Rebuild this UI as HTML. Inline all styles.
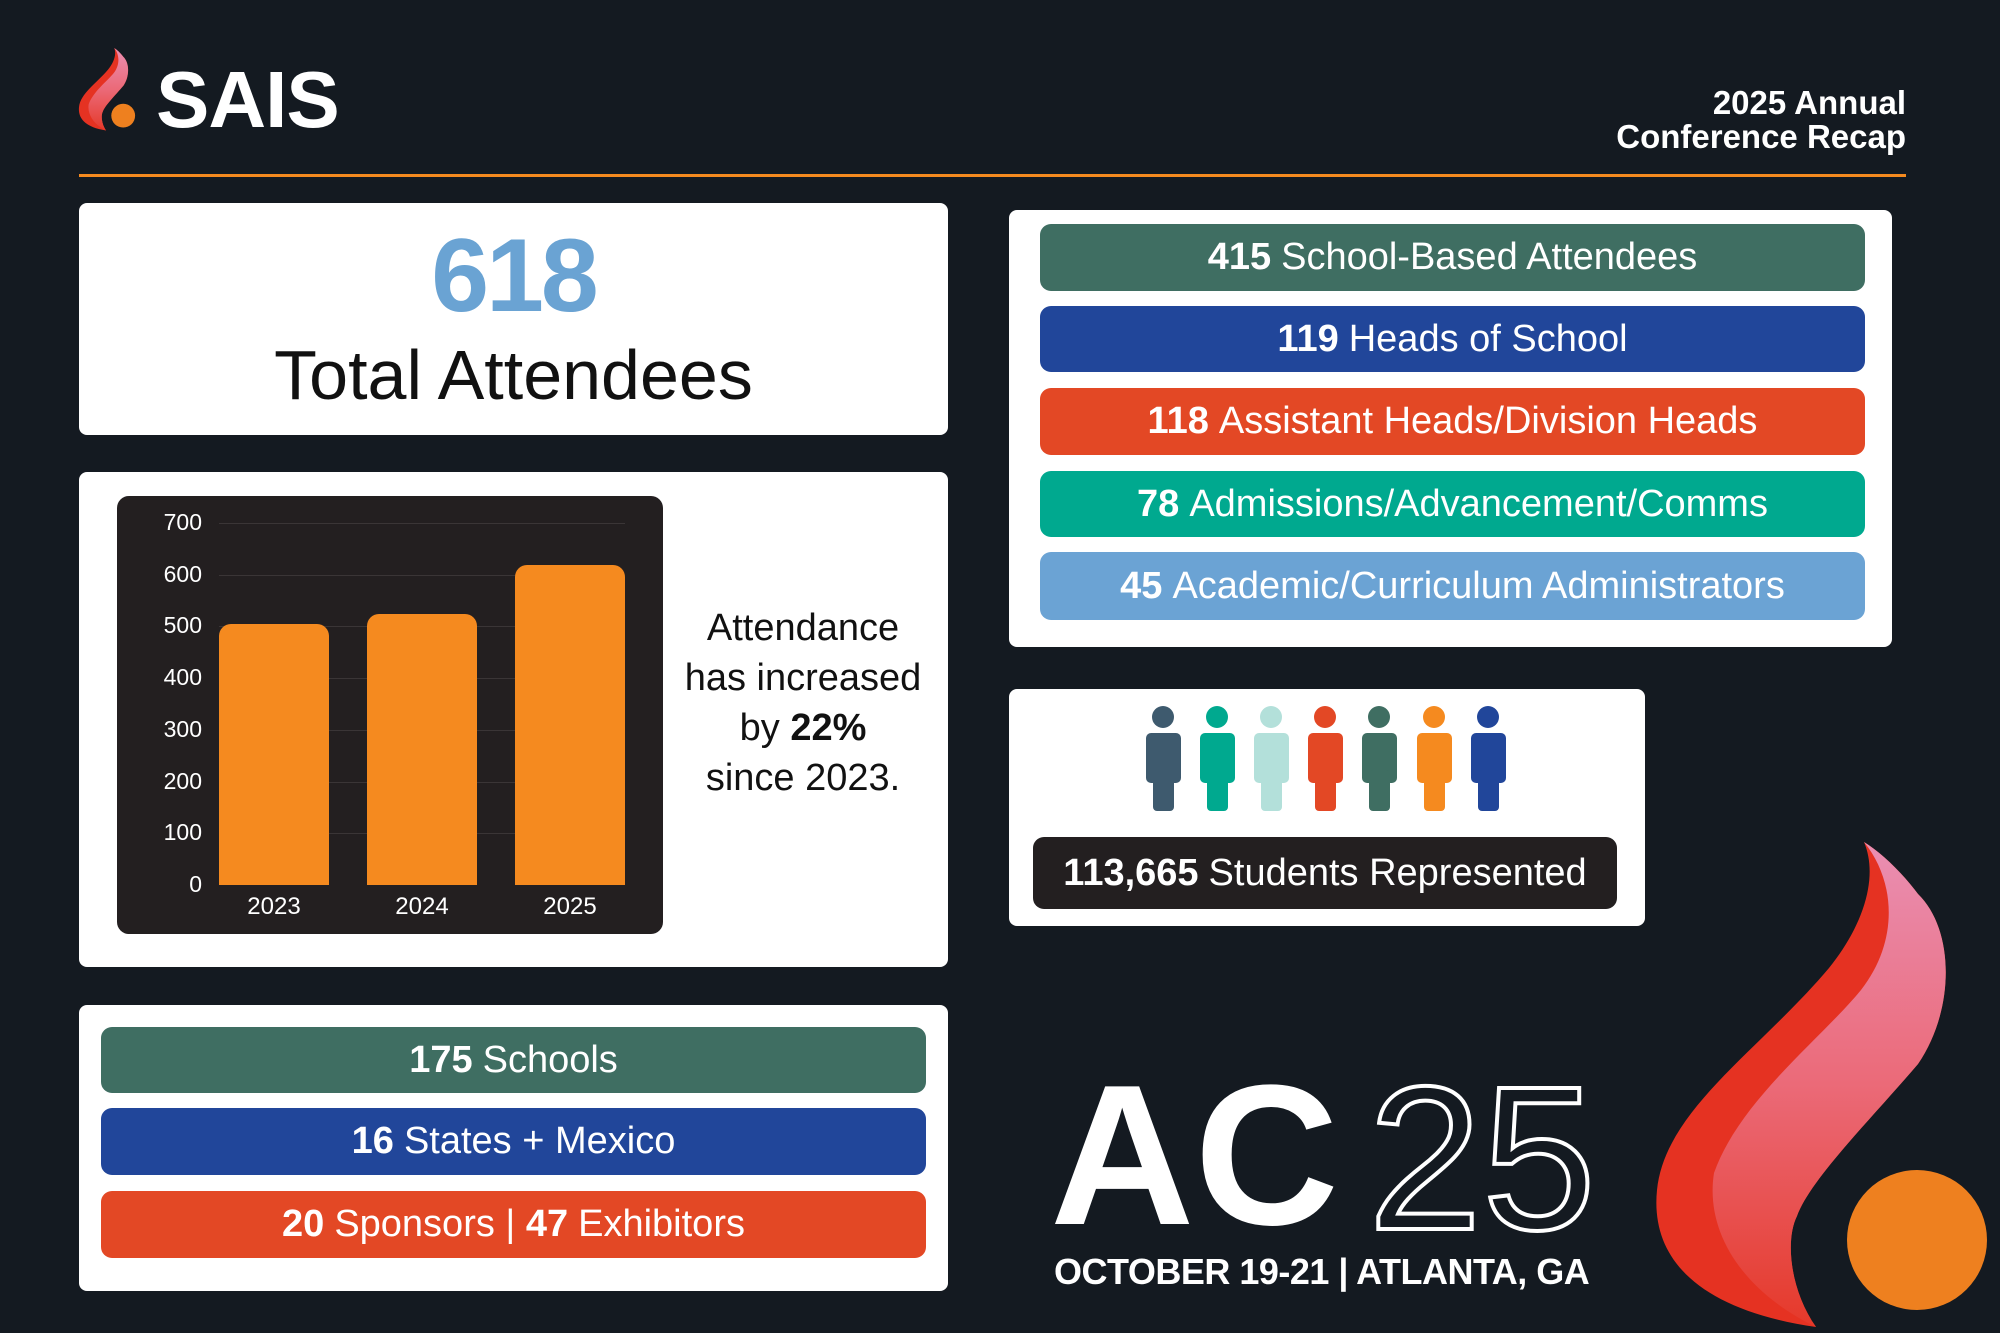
<!DOCTYPE html>
<html><head><meta charset="utf-8"><style>
*{margin:0;padding:0;box-sizing:border-box}
body{width:2000px;height:1333px;background:#141a21;position:relative;overflow:hidden;font-family:"Liberation Sans",sans-serif;color:#111}
.a{position:absolute}
.card{position:absolute;background:#fff;border-radius:8px}
.bar{position:absolute;border-radius:11px;color:#fff;font-size:38px;display:flex;align-items:center;justify-content:center;white-space:nowrap}
.bar b{margin-right:10px}
.yl{position:absolute;left:140px;width:62px;text-align:right;color:#fff;font-size:23px}
.gl{position:absolute;left:219px;width:406px;height:1px;background:#3a3536}
.ob{position:absolute;background:#f58a1f;border-radius:12px 12px 0 0;width:110px}
.xl{position:absolute;top:893px;color:#fff;font-size:24px;width:110px;text-align:center}
</style></head><body>
<svg class="a" style="left:0;top:0" width="2000" height="1333">
<defs>
<linearGradient id="pk" x1="0" y1="0" x2="0" y2="1"><stop offset="0" stop-color="#ea8fb3"/><stop offset="0.5" stop-color="#eb6a78"/><stop offset="1" stop-color="#e5392a"/></linearGradient>
<g id="fl">
<path d="M1864 842 C1880 880 1860 930 1829 968 C1760 1050 1665 1110 1657 1190 C1650 1260 1700 1310 1816 1327 C1790 1290 1785 1240 1797 1216 C1810 1180 1870 1120 1918 1064 C1955 1010 1955 930 1918 894 C1900 870 1880 852 1864 842 Z" fill="#e53222"/>
<path d="M1864 842 C1895 880 1900 940 1861 990 C1820 1040 1740 1100 1714 1173 C1705 1230 1740 1290 1816 1327 C1790 1290 1785 1240 1797 1216 C1810 1180 1870 1120 1918 1064 C1955 1010 1955 930 1918 894 C1900 870 1880 852 1864 842 Z" fill="url(#pk)"/>
<ellipse cx="1917" cy="1240" rx="70" ry="70" fill="#ee801f"/>
</g>
</defs>
<use href="#fl"/>
<g transform="translate(79,48) scale(0.17) translate(-1657,-842)"><use href="#fl"/></g>
<rect x="79" y="174" width="1827" height="3" fill="#f58a1f"/>
</svg>
<div class="a" style="left:156px;top:54px;font-size:80px;font-weight:bold;color:#fff;letter-spacing:-1px">SAIS</div>
<div class="a" style="right:94px;top:86px;font-size:33px;font-weight:bold;color:#fff;text-align:right;line-height:34px">2025 Annual<br>Conference Recap</div>

<div class="card" style="left:79px;top:203px;width:869px;height:232px">
<div class="a" style="left:0;width:869px;top:14px;text-align:center;font-size:104px;font-weight:bold;color:#6aa3d3;letter-spacing:-3px">618</div>
<div class="a" style="left:0;width:869px;top:132px;text-align:center;font-size:70px;color:#111">Total Attendees</div>
</div>

<div class="card" style="left:79px;top:472px;width:869px;height:495px"></div>
<div class="a" style="left:117px;top:496px;width:546px;height:438px;background:#231f20;border-radius:12px"></div>
<div class="gl" style="top:523px"></div><div class="gl" style="top:575px"></div><div class="gl" style="top:626px"></div><div class="gl" style="top:678px"></div><div class="gl" style="top:730px"></div><div class="gl" style="top:782px"></div><div class="gl" style="top:833px"></div>
<div class="yl" style="top:509px">700</div><div class="yl" style="top:561px">600</div><div class="yl" style="top:612px">500</div><div class="yl" style="top:664px">400</div><div class="yl" style="top:716px">300</div><div class="yl" style="top:768px">200</div><div class="yl" style="top:819px">100</div><div class="yl" style="top:871px">0</div>
<div class="ob" style="left:219px;top:624px;height:261px"></div>
<div class="ob" style="left:367px;top:614px;height:271px"></div>
<div class="ob" style="left:515px;top:565px;height:320px"></div>
<div class="xl" style="left:219px">2023</div><div class="xl" style="left:367px">2024</div><div class="xl" style="left:515px">2025</div>
<div class="a" style="left:668px;width:270px;top:603px;text-align:center;font-size:38px;line-height:50px;color:#111">Attendance<br>has increased<br>by <b>22%</b><br>since 2023.</div>

<div class="card" style="left:79px;top:1005px;width:869px;height:286px"></div>
<div class="bar" style="left:101px;top:1027px;width:825px;height:66px;background:#3f6e62"><b>175</b>Schools</div>
<div class="bar" style="left:101px;top:1108px;width:825px;height:67px;background:#21469a"><b>16</b>States + Mexico</div>
<div class="bar" style="left:101px;top:1191px;width:825px;height:67px;background:#e34825"><b>20</b>Sponsors |&nbsp;<b>47</b>Exhibitors</div>

<div class="card" style="left:1009px;top:210px;width:883px;height:437px"></div>
<div class="bar" style="left:1040px;top:224px;width:825px;height:67px;background:#3f6e62"><b>415</b>School-Based Attendees</div>
<div class="bar" style="left:1040px;top:306px;width:825px;height:66px;background:#21469a"><b>119</b>Heads of School</div>
<div class="bar" style="left:1040px;top:388px;width:825px;height:67px;background:#e34825"><b>118</b>Assistant Heads/Division Heads</div>
<div class="bar" style="left:1040px;top:471px;width:825px;height:66px;background:#00a98f"><b>78</b>Admissions/Advancement/Comms</div>
<div class="bar" style="left:1040px;top:552px;width:825px;height:68px;background:#6ba3d4"><b>45</b>Academic/Curriculum Administrators</div>

<div class="card" style="left:1009px;top:689px;width:636px;height:237px"></div>
<svg class="a" style="left:0;top:0" width="2000" height="1333">
<g fill="#3e5a6e"><circle cx="1163" cy="717" r="11"/><rect x="1146" y="733" width="35" height="50" rx="5"/><rect x="1153" y="770" width="21" height="41" rx="4"/></g>
<g fill="#00a98f"><circle cx="1217" cy="717" r="11"/><rect x="1200" y="733" width="35" height="50" rx="5"/><rect x="1207" y="770" width="21" height="41" rx="4"/></g>
<g fill="#b3e0da"><circle cx="1271" cy="717" r="11"/><rect x="1254" y="733" width="35" height="50" rx="5"/><rect x="1261" y="770" width="21" height="41" rx="4"/></g>
<g fill="#e34825"><circle cx="1325" cy="717" r="11"/><rect x="1308" y="733" width="35" height="50" rx="5"/><rect x="1315" y="770" width="21" height="41" rx="4"/></g>
<g fill="#3f6e62"><circle cx="1379" cy="717" r="11"/><rect x="1362" y="733" width="35" height="50" rx="5"/><rect x="1369" y="770" width="21" height="41" rx="4"/></g>
<g fill="#f58a1f"><circle cx="1434" cy="717" r="11"/><rect x="1417" y="733" width="35" height="50" rx="5"/><rect x="1424" y="770" width="21" height="41" rx="4"/></g>
<g fill="#21469a"><circle cx="1488" cy="717" r="11"/><rect x="1471" y="733" width="35" height="50" rx="5"/><rect x="1478" y="770" width="21" height="41" rx="4"/></g>
</svg>
<div class="bar" style="left:1033px;top:837px;width:584px;height:72px;background:#231f20;font-size:38px"><b>113,665</b>Students Represented</div>

<div class="a" style="left:1050px;top:1056px;font-size:200px;font-weight:bold;color:#fff;letter-spacing:0px;line-height:200px">AC</div>
<svg class="a" style="left:0;top:0" width="2000" height="1333">
<text x="1368" y="1229" font-family="Liberation Sans, sans-serif" font-size="205" fill="none" stroke="#fff" stroke-width="4" letter-spacing="0">25</text>
</svg>
<div class="a" style="left:1054px;top:1251px;font-size:36px;font-weight:bold;color:#fff;white-space:nowrap;letter-spacing:-0.5px">OCTOBER 19-21 | ATLANTA, GA</div>
</body></html>
